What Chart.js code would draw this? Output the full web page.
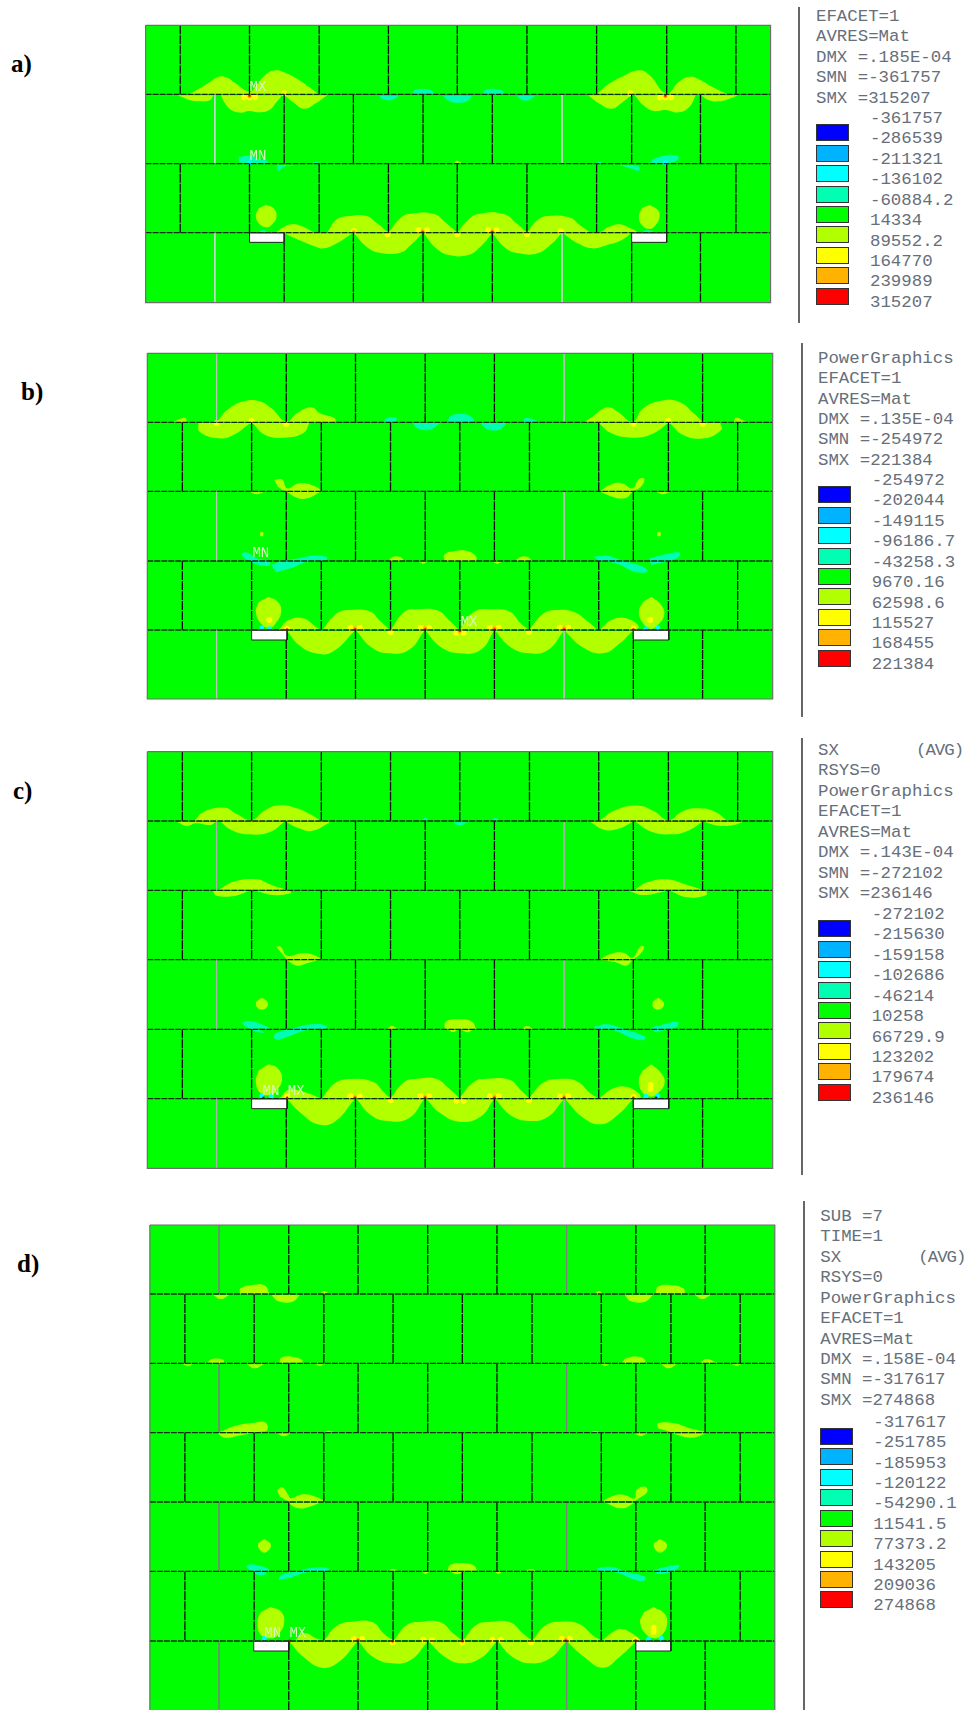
<!DOCTYPE html>
<html>
<head>
<meta charset="utf-8">
<title>SX contour plots</title>
<script src="https://cdn.jsdelivr.net/npm/chart.js@4/dist/chart.umd.min.js"></script>
<style>
  html, body { margin: 0; background: #fff; width: 968px; height: 1710px; overflow: hidden; }
  canvas { position: absolute; }
  .note, .tag, .letter, .avg { position: absolute; white-space: pre; line-height: 1; }
  .note, .avg { font: 17.4px "Liberation Mono", monospace; color: #666f7a; }
  .avg { letter-spacing: -1px; }
  .tag { font: 14px "Liberation Mono", monospace; color: #d8f8b8; }
  .letter { font: bold 25px "Liberation Serif", serif; color: #000; }
  .swatch { position: absolute; width: 31px; height: 15px; border: 1px solid #333; }
  .rule { position: absolute; width: 2px; background: #666; }
</style>
</head>
<body>
<script>
const bandColors = ['#0000ff', '#00b3ff', '#00ffff', '#00ffb3', '#00ff00', '#b2ff00', '#ffff00', '#ffb300', '#ff0000'];
const letters = ['a)', 'b)', 'c)', 'd)'];

// ---- panel a
const aFrame = [37, 46, 1517, 878];
const aCourses = [253, 461, 668];
const aJoints = [
  [119, 283, 448, 612, 775, 940, 1105, 1271, 1435],
  [201, 365, 529, 694, 858, 1023, 1188, 1351],
  [119, 283, 448, 612, 775, 940, 1105, 1271, 1435],
  [201, 365, 529, 694, 858, 1023, 1188, 1351]
];
const aPaleJoints = [201, 1023];
const aOpenings = [[283, 669, 365, 697], [1188, 669, 1271, 697]];
const aLime = [
  [140,253,165,235,190,215,210,200,228,202,250,220,283,245,300,225,320,195,345,181,370,190,400,210,425,232,447,253],
  [112,256,125,262,140,270,165,274,190,270,197,256],
  [215,256,225,280,240,300,262,308,283,303,305,307,330,300,345,280,360,256],
  [365,256,385,275,412,296,440,280,467,256],
  [1105,253,1130,225,1165,200,1205,181,1230,195,1270,250,1300,215,1325,200,1350,210,1385,235,1415,253],
  [1085,256,1110,280,1140,296,1165,278,1187,256],
  [1195,256,1215,285,1240,303,1268,300,1300,307,1325,290,1340,256],
  [1352,256,1370,270,1395,274,1420,266,1440,256],
  [322,584,340,595,347,620,335,645,322,652,305,640,298,618,305,595],
  [1230,584,1250,600,1254,620,1245,645,1230,657,1212,645,1205,620,1212,595],
  [345,668,365,650,385,643,410,650,437,668],
  [467,668,490,628,520,618,560,618,585,640,610,666],
  [612,668,640,625,660,612,720,612,745,635,775,668],
  [775,668,800,630,825,612,885,612,915,640,940,668],
  [940,668,965,630,990,618,1040,622,1065,645,1090,668],
  [1112,668,1135,650,1160,643,1185,655,1205,668],
  [365,670,400,690,440,710,460,715,490,700,527,670],
  [530,670,560,710,590,728,640,728,665,705,693,670],
  [695,670,725,715,755,735,800,735,830,710,858,670],
  [858,670,890,715,920,730,965,730,1000,700,1022,670],
  [1025,670,1060,700,1095,715,1130,705,1165,690,1187,670],
  [765,461,775,452,788,461]
];
const aTeal = [
  [668,253,675,240,700,237,718,245,718,253],
  [835,253,842,240,865,237,885,245,885,253],
  [590,257,600,268,620,270,637,258],
  [742,257,755,272,775,278,800,272,810,257],
  [916,257,928,270,945,270,960,257],
  [257,440,290,437,300,447,325,452,325,461,258,458],
  [348,465,352,482,365,470,392,465],
  [430,461,440,455,452,461],
  [1100,461,1112,455,1122,461],
  [1160,465,1185,475,1205,482,1205,470,1190,465],
  [1230,462,1240,447,1265,437,1297,437,1297,450,1270,461],
  [305,667,315,660,325,667],
  [1212,667,1225,660,1245,667]
];
const aYellow = [[270,262],[283,262],[296,262],[1255,262],[1268,262],[1281,262],[365,250],[1185,250],[530,664],[683,661],[703,661],[848,661],[868,661],[1020,664],[610,673],[775,673],[940,673]];
const aOrange = [[283,259],[1268,259],[693,664],[858,664],[530,666]];
const aRed = [[283,257],[1268,257],[693,666],[858,666]];
const aCyan = [[283,458],[1268,458]];
const aTags = [['MX', 283, 213], ['MN', 283, 420]];

// ---- panel b
const bFrame = [41, 25, 1522, 1062];
const bCourses = [232, 439, 648, 855];
const bJoints = [
  [205, 370, 534, 699, 863, 1028, 1192, 1356],
  [124, 288, 453, 617, 781, 946, 1110, 1275, 1439],
  [205, 370, 534, 699, 863, 1028, 1192, 1356],
  [124, 288, 453, 617, 781, 946, 1110, 1275, 1439],
  [205, 370, 534, 699, 863, 1028, 1192, 1356]
];
const bPaleJoints = [205, 1028];
const bOpenings = [[288, 856, 372, 885], [1192, 856, 1276, 885]];
const bLime = [
  [205,232,230,195,265,170,305,168,335,190,370,230,395,205,430,187,450,205,485,220,487,232],
  [100,232,130,218,135,232],
  [162,234,165,260,210,280,245,270,285,234],
  [290,234,320,270,365,278,410,265,425,234],
  [1075,232,1095,215,1130,187,1155,200,1190,230,1215,190,1255,168,1300,170,1335,205,1357,232],
  [1430,232,1435,218,1462,232],
  [1110,234,1140,265,1190,278,1235,268,1275,234],
  [1278,234,1310,270,1360,280,1400,255,1398,234],
  [342,405,360,403,372,430,400,415,430,420,452,439,370,439,350,425],
  [372,441,395,458,420,460,450,441],
  [1112,439,1140,418,1165,415,1190,430,1205,402,1218,402,1210,425,1190,439],
  [1115,441,1150,458,1175,458,1190,441],
  [285,441,300,448,317,441],
  [1247,441,1262,448,1278,441],
  [308,562,315,562,315,573,308,573],
  [1248,562,1256,562,1256,573,1248,573],
  [745,648,745,628,770,618,800,618,820,635,820,648],
  [612,648,622,636,640,636,650,648],
  [912,648,925,636,942,636,952,648],
  [685,650,695,656,703,650],
  [860,650,870,656,880,650],
  [328,755,350,770,358,800,345,835,330,850,310,835,298,800,305,770],
  [1235,755,1258,780,1265,810,1250,840,1232,852,1215,835,1205,800,1215,770],
  [352,855,375,825,410,820,445,850,453,855],
  [455,855,490,805,520,795,570,800,590,825,616,855],
  [617,855,650,800,680,793,730,797,755,825,780,855],
  [780,855,815,800,860,793,900,800,925,835,945,855],
  [945,855,980,805,1010,795,1050,800,1085,830,1108,855],
  [1112,855,1140,825,1175,820,1205,845,1190,855],
  [372,858,400,900,440,925,480,920,532,858],
  [536,858,570,905,610,925,660,915,697,858],
  [700,858,735,905,780,925,830,915,862,858],
  [865,858,900,905,945,925,990,915,1027,858],
  [1030,858,1070,905,1120,925,1160,895,1190,858]
];
const bTeal = [
  [600,232,608,220,630,218,630,232],
  [752,232,760,212,795,208,812,220,815,232],
  [932,232,935,220,960,225,965,232],
  [670,234,680,250,710,254,735,234],
  [830,234,845,252,875,254,892,234],
  [263,625,275,622,300,640,330,650,330,662,300,658,270,640],
  [335,660,360,648,400,640,430,632,465,635,465,645,420,650,380,670,345,682],
  [1098,635,1130,632,1170,648,1215,665,1225,680,1195,680,1150,655,1110,648],
  [1230,640,1260,630,1300,622,1300,635,1275,648,1235,660]
];
const bYellow = [[205,235],[288,228],[370,236],[1192,236],[1275,228],[1357,236],[372,851],[522,848],[544,848],[617,861],[688,848],[708,848],[773,863],[790,863],[852,848],[873,848],[945,861],[1018,848],[1038,848],[1192,851],[330,825],[1232,825]];
const bOrange = [[533,850],[699,850],[863,850],[1028,850],[781,860]];
const bRed = [[372,853],[533,853],[699,853],[781,857],[863,853],[1028,853],[1192,853]];
const bCyan = [[312,849],[330,851],[1222,851],[1250,849]];
const bTags = [['MN', 290, 605], ['MX', 783, 813]];

// ---- panel c
const cFrame = [41, 20, 1522, 1270];
const cCourses = [228, 436, 644, 853, 1061];
const cJoints = [
  [124, 288, 453, 617, 781, 946, 1110, 1275, 1439],
  [205, 370, 534, 699, 863, 1028, 1192, 1356],
  [124, 288, 453, 617, 781, 946, 1110, 1275, 1439],
  [205, 370, 534, 699, 863, 1028, 1192, 1356],
  [124, 288, 453, 617, 781, 946, 1110, 1275, 1439],
  [205, 370, 534, 699, 863, 1028, 1192, 1356]
];
const cPaleJoints = [205, 1028];
const cOpenings = [[288, 1062, 372, 1091], [1192, 1062, 1276, 1091]];
const cLime = [
  [152,228,175,200,225,188,250,205,288,225,320,195,355,181,395,190,430,210,452,228],
  [112,231,135,243,155,235,190,240,203,231],
  [215,231,240,255,280,268,330,262,365,231],
  [370,231,400,250,430,258,470,235,472,231],
  [1110,228,1150,195,1205,182,1240,198,1275,225,1310,198,1345,190,1385,200,1415,228],
  [1090,231,1125,255,1160,250,1190,231],
  [1197,231,1235,260,1280,268,1320,258,1355,231],
  [1360,231,1395,242,1430,240,1450,231],
  [210,434,245,410,300,403,335,420,370,434],
  [196,438,205,452,250,452,280,438],
  [300,438,340,450,380,445,380,438],
  [1195,434,1225,412,1270,403,1320,420,1355,434],
  [1183,438,1215,450,1270,438],
  [1280,438,1320,457,1365,450,1365,438],
  [346,605,357,605,372,632,410,624,435,630,452,644,372,644],
  [372,646,395,662,420,655,445,646],
  [1112,644,1140,626,1170,624,1190,638,1208,605,1217,605,1210,625,1192,644],
  [1115,646,1150,652,1175,662,1190,646],
  [312,758,325,770,325,785,312,794,300,785,298,770],
  [1250,758,1263,770,1263,785,1250,794,1238,785,1238,770],
  [745,853,748,830,780,823,810,830,820,853],
  [608,853,620,843,635,853],
  [927,853,940,843,955,853],
  [755,855,765,862,775,855],
  [785,855,800,862,810,855],
  [328,958,350,970,360,1005,345,1040,335,1050,310,1045,298,1010,305,975],
  [1235,958,1258,985,1266,1015,1250,1045,1235,1055,1215,1045,1205,1005,1215,975],
  [355,1059,375,1035,410,1040,450,1059],
  [455,1059,485,1015,520,1002,575,1010,600,1040,616,1059],
  [617,1059,650,1010,680,1001,725,1001,755,1030,780,1059],
  [780,1059,815,1010,850,1001,900,1005,925,1035,945,1059],
  [945,1059,980,1012,1015,1002,1060,1010,1090,1045,1108,1059],
  [1112,1059,1145,1030,1175,1025,1205,1045,1210,1059],
  [372,1063,405,1105,445,1138,485,1130,532,1063],
  [537,1063,570,1110,610,1128,660,1120,697,1063],
  [702,1063,735,1105,780,1130,830,1115,862,1063],
  [866,1063,900,1110,945,1128,990,1115,1027,1063],
  [1031,1063,1070,1115,1115,1138,1155,1110,1191,1063]
];
const cTeal = [
  [266,832,285,828,325,845,330,852,300,850,318,862,300,860,270,842],
  [340,878,345,865,385,850,430,838,465,842,462,852,420,855,380,872,350,886],
  [1098,845,1130,838,1170,852,1220,875,1215,885,1190,880,1145,856,1105,852],
  [1233,848,1265,838,1297,830,1295,845,1265,855,1245,862],
  [690,226,700,218,708,226],
  [765,232,780,242,800,232],
  [855,226,865,218,875,226]
];
const cYellow = [[372,1056],[522,1054],[544,1054],[617,1066],[688,1054],[708,1054],[773,1067],[790,1067],[852,1054],[873,1054],[945,1066],[1018,1054],[1038,1054],[1192,1056],[1233,1020],[1233,1032]];
const cOrange = [[533,1056],[699,1056],[863,1056],[1028,1056]];
const cRed = [[372,1058],[533,1058],[699,1058],[863,1058],[1028,1058],[1192,1058]];
const cCyan = [[312,1052],[335,1054],[1222,1054],[1250,1052]];
const cBlue = [[316,1058],[1246,1058]];
const cTags = [['MN MX', 314, 1020]];

// ---- panel d
const dFrame = [47, 30, 1527, 1560];
const dCourses = [237, 445, 653, 861, 1069, 1278];
const dJoints = [
  [211, 376, 540, 705, 869, 1034, 1198, 1362],
  [130, 294, 459, 623, 787, 952, 1116, 1281, 1445],
  [211, 376, 540, 705, 869, 1034, 1198, 1362],
  [130, 294, 459, 623, 787, 952, 1116, 1281, 1445],
  [211, 376, 540, 705, 869, 1034, 1198, 1362],
  [130, 294, 459, 623, 787, 952, 1116, 1281, 1445],
  [211, 376, 540, 705, 869, 1034, 1198, 1362]
];
const dPaleJoints = [211, 1034];
const dOpenings = [[293, 1279, 376, 1308], [1198, 1279, 1281, 1308]];
const dLime = [
  [260,236,262,220,290,210,320,212,330,236],
  [450,236,460,228,472,236],
  [1100,236,1110,228,1120,236],
  [1245,236,1250,215,1280,210,1310,220,1315,236],
  [197,240,215,252,235,240],
  [335,240,350,258,385,260,402,240],
  [1172,240,1185,258,1220,260,1238,240],
  [1338,240,1355,252,1375,240],
  [183,443,195,432,222,435,222,443],
  [354,443,358,428,385,425,408,435,408,443],
  [1165,443,1175,430,1205,425,1220,435,1220,443],
  [1350,443,1365,432,1390,443],
  [277,448,295,460,317,448],
  [125,448,138,454,148,448],
  [438,448,450,453,460,448],
  [1258,448,1275,460,1295,448],
  [1115,448,1125,453,1135,448],
  [1425,448,1437,453,1448,448],
  [212,651,250,632,295,623,320,622,325,645,305,651],
  [1250,640,1250,625,1290,625,1325,640,1362,651,1280,651],
  [207,655,225,668,265,660,295,655],
  [347,655,365,664,380,655],
  [1195,655,1210,663,1225,655],
  [1283,655,1330,668,1365,655],
  [460,651,470,647,482,651],
  [1092,651,1103,648,1112,651],
  [348,825,360,817,375,840,380,850,410,838,440,845,458,859,380,859,355,845],
  [372,863,400,880,425,875,450,863],
  [1117,859,1145,842,1170,840,1195,850,1200,825,1220,815,1225,830,1205,850,1195,859],
  [1125,863,1165,880,1195,863],
  [318,972,332,985,332,1000,318,1013,305,1000,303,985],
  [1255,972,1270,985,1270,1000,1255,1013,1242,1000,1240,985],
  [752,1067,758,1050,785,1044,815,1052,822,1067],
  [612,1067,623,1062,635,1067],
  [938,1067,950,1062,960,1067],
  [760,1071,775,1078,790,1071],
  [692,1071,700,1077,708,1071],
  [865,1071,873,1077,880,1071],
  [333,1176,358,1190,365,1225,350,1260,335,1270,310,1260,302,1220,310,1190],
  [1240,1176,1265,1195,1272,1225,1260,1260,1240,1270,1220,1255,1208,1220,1218,1190],
  [390,1276,415,1255,440,1270,458,1276],
  [460,1276,490,1232,525,1220,575,1222,600,1255,622,1276],
  [625,1276,655,1230,690,1220,735,1222,765,1255,786,1276],
  [789,1276,820,1230,855,1220,900,1222,930,1255,950,1276],
  [953,1276,985,1230,1020,1220,1065,1228,1095,1260,1115,1276],
  [1118,1276,1145,1250,1165,1242,1195,1260,1210,1276],
  [378,1281,410,1325,455,1358,495,1340,538,1281],
  [542,1281,575,1325,620,1345,665,1335,704,1281],
  [708,1281,745,1325,785,1345,830,1330,868,1281],
  [872,1281,905,1325,950,1345,995,1330,1032,1281],
  [1036,1281,1075,1325,1120,1358,1160,1325,1197,1281]
];
const dTeal = [
  [275,1052,290,1048,325,1060,330,1068,305,1068,325,1075,305,1080,280,1062],
  [352,1095,358,1080,400,1068,430,1058,470,1060,465,1070,420,1072,380,1088],
  [1105,1060,1140,1056,1175,1070,1220,1085,1215,1098,1190,1092,1150,1072,1110,1068],
  [1240,1065,1270,1055,1300,1050,1295,1063,1270,1075,1250,1078]
];
const dYellow = [[530,1272],[550,1272],[622,1282],[695,1274],[715,1274],[787,1282],[858,1274],[878,1274],[950,1282],[1022,1272],[1042,1272],[1197,1274],[1240,1238],[1240,1250]];
const dOrange = [[540,1274],[1032,1274]];
const dRed = [[378,1277],[540,1276],[622,1279],[787,1279],[1032,1277],[1197,1276]];
const dCyan = [[318,1270],[1228,1272],[1258,1270]];
const dTags = [['MN MX', 318, 1237]];

// ---- legend text
const aNotes = ['EFACET=1', 'AVRES=Mat', 'DMX =.185E-04', 'SMN =-361757', 'SMX =315207'];
const aLevels = ['-361757', '-286539', '-211321', '-136102', '-60884.2', '14334', '89552.2', '164770', '239989', '315207'];
const bNotes = ['PowerGraphics', 'EFACET=1', 'AVRES=Mat', 'DMX =.135E-04', 'SMN =-254972', 'SMX =221384'];
const bLevels = ['-254972', '-202044', '-149115', '-96186.7', '-43258.3', '9670.16', '62598.6', '115527', '168455', '221384'];
const cNotes = ['SX', 'RSYS=0', 'PowerGraphics', 'EFACET=1', 'AVRES=Mat', 'DMX =.143E-04', 'SMN =-272102', 'SMX =236146'];
const cLevels = ['-272102', '-215630', '-159158', '-102686', '-46214', '10258', '66729.9', '123202', '179674', '236146'];
const dNotes = ['SUB =7', 'TIME=1', 'SX', 'RSYS=0', 'PowerGraphics', 'EFACET=1', 'AVRES=Mat', 'DMX =.158E-04', 'SMN =-317617', 'SMX =274868'];
const dLevels = ['-317617', '-251785', '-185953', '-120122', '-54290.1', '11541.5', '77373.2', '143205', '209036', '274868'];

const pairs = flat => {
  const out = [];
  for (let i = 0; i < flat.length; i += 2) out.push({ x: flat[i], y: flat[i + 1] });
  return out;
};

function shape(flat, color, tension) {
  return { data: pairs(flat), showLine: true, fill: 'shape', tension: tension, backgroundColor: color,
    borderColor: color, borderWidth: 0, pointRadius: 0 };
}

function spots(list, color, radius) {
  return { data: list.map(p => ({ x: p[0], y: p[1] })), showLine: false, pointRadius: radius,
    pointBackgroundColor: color, pointBorderWidth: 0 };
}

function path(points, color, width, dash) {
  return { data: points, showLine: true, fill: false, spanGaps: false, tension: 0, borderColor: color,
    borderWidth: width, borderDash: dash, pointRadius: 0 };
}

const xMax = 1563;

function makePanel(p) {
  const [left, top, right, bottom] = p.frame;
  const sets = [];
  sets.push(shape([left, top, right, top, right, bottom, left, bottom], bandColors[4], 0));
  p.lime.forEach(s => sets.push(shape(s, bandColors[5], 0.45)));
  p.teal.forEach(s => sets.push(shape(s, bandColors[3], 0.45)));
  sets.push(spots(p.cyan, bandColors[2], 2.5));
  if (p.blue) sets.push(spots(p.blue, bandColors[0], 1.2));
  sets.push(spots(p.yellow, bandColors[6], 3));
  sets.push(spots(p.orange, bandColors[7], 2));
  sets.push(spots(p.red, bandColors[8], 1.2));
  // mortar joints and course lines
  const dark = [], pale = [], lines = [];
  const levels = [top].concat(p.courses, [bottom]);
  p.joints.forEach((row, i) => {
    row.forEach(x => {
      const target = p.pale.includes(x) ? pale : dark;
      target.push({ x: x, y: levels[i] }, { x: x, y: levels[i + 1] }, { x: NaN, y: NaN });
    });
  });
  p.courses.forEach(y => lines.push({ x: left, y: y }, { x: right, y: y }, { x: NaN, y: NaN }));
  sets.push(path(pale, p.paleColor, 1, []));
  sets.push(path(dark, '#0c0c0c', 1.3, [9, 1]));
  sets.push(path(lines, '#0c2c0c', 1.3, [6, 1]));
  p.openings.forEach(o => {
    sets.push({ data: pairs([o[0], o[1], o[2], o[1], o[2], o[3], o[0], o[3], o[0], o[1]]), showLine: true, fill: 'shape',
      tension: 0, backgroundColor: '#fff', borderColor: '#222', borderWidth: 1, pointRadius: 0 });
  });
  sets.push(path(pairs([left, top, right, top, right, bottom, left, bottom, left, top]), '#6f6f6f', 1.2, []));

  const canvas = document.createElement('canvas');
  canvas.width = 660;
  canvas.height = p.crop[1];
  canvas.style.left = '130px';
  canvas.style.top = p.crop[0] + 'px';
  document.body.appendChild(canvas);
  const chart = new Chart(canvas.getContext('2d'), {
    type: 'scatter',
    data: { datasets: sets.reverse() },
    options: {
      responsive: false,
      animation: false,
      events: [],
      layout: { padding: 0, autoPadding: false },
      plugins: { legend: { display: false }, tooltip: { enabled: false } },
      scales: {
        x: { type: 'linear', display: false, min: 0, max: xMax },
        y: { type: 'linear', display: false, reverse: true, min: 0, max: p.crop[1] * 3 }
      }
    }
  });
  p.tags.forEach(t => addText('tag', t[0], 130 + chart.scales.x.getPixelForValue(t[1]), p.crop[0] + chart.scales.y.getPixelForValue(t[2]) - 2));
}

function addText(cls, text, x, y) {
  const el = document.createElement('div');
  el.className = cls;
  el.textContent = text;
  el.style.left = x + 'px';
  el.style.top = y + 'px';
  document.body.appendChild(el);
}

function makeLegend(l) {
  const rule = document.createElement('div');
  rule.className = 'rule';
  rule.style.left = l.ruleX + 'px';
  rule.style.top = l.ruleTop + 'px';
  rule.style.height = (l.ruleBottom - l.ruleTop) + 'px';
  document.body.appendChild(rule);
  const step = 20.42;
  l.notes.forEach((t, i) => {
    addText('note', t, l.x, l.y + i * step - 9);
    if (t === 'SX') addText('avg', '(AVG)', l.x + 98, l.y + i * step - 9);
  });
  l.levels.forEach((t, i) => addText('note', t, l.valueX, l.valueY + i * step - 9));
  bandColors.forEach((c, i) => {
    const s = document.createElement('div');
    s.className = 'swatch';
    s.style.background = c;
    s.style.left = l.x + 'px';
    s.style.top = (l.valueY + 6.3 + i * step) + 'px';
    document.body.appendChild(s);
  });
}

makePanel({ crop: [10, 310], frame: aFrame, courses: aCourses, joints: aJoints, pale: aPaleJoints, paleColor: '#c8d8c8', openings: aOpenings, lime: aLime, teal: aTeal, yellow: aYellow, orange: aOrange, red: aRed, cyan: aCyan, tags: aTags });
makePanel({ crop: [345, 360], frame: bFrame, courses: bCourses, joints: bJoints, pale: bPaleJoints, paleColor: '#b8c4b8', openings: bOpenings, lime: bLime, teal: bTeal, yellow: bYellow, orange: bOrange, red: bRed, cyan: bCyan, tags: bTags });
makePanel({ crop: [745, 430], frame: cFrame, courses: cCourses, joints: cJoints, pale: cPaleJoints, paleColor: '#aab4aa', openings: cOpenings, lime: cLime, teal: cTeal, yellow: cYellow, orange: cOrange, red: cRed, cyan: cCyan, blue: cBlue, tags: cTags });
makePanel({ crop: [1215, 495], frame: dFrame, courses: dCourses, joints: dJoints, pale: dPaleJoints, paleColor: '#808080', openings: dOpenings, lime: dLime, teal: dTeal, yellow: dYellow, orange: dOrange, red: dRed, cyan: dCyan, tags: dTags });

makeLegend({ notes: aNotes, levels: aLevels, x: 816, y: 16, valueX: 870, valueY: 118, ruleX: 798, ruleTop: 7, ruleBottom: 323 });
makeLegend({ notes: bNotes, levels: bLevels, x: 818, y: 357.7, valueX: 871.7, valueY: 480, ruleX: 800.5, ruleTop: 343, ruleBottom: 717 });
makeLegend({ notes: cNotes, levels: cLevels, x: 818, y: 750, valueX: 871.7, valueY: 914, ruleX: 800.5, ruleTop: 738, ruleBottom: 1175 });
makeLegend({ notes: dNotes, levels: dLevels, x: 820.3, y: 1216, valueX: 873.3, valueY: 1421.7, ruleX: 802.5, ruleTop: 1201, ruleBottom: 1710 });

addText('letter', letters[0], 11, 50);
addText('letter', letters[1], 21, 378);
addText('letter', letters[2], 13, 777);
addText('letter', letters[3], 17, 1250);
</script>
</body>
</html>
